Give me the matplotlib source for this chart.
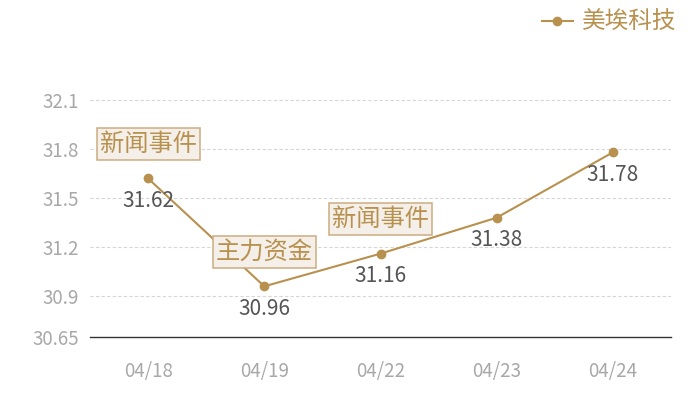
import matplotlib
matplotlib.use("Agg")
import matplotlib.pyplot as plt
from matplotlib.lines import Line2D

plt.rcParams["font.family"] = ["Noto Sans CJK SC", "DejaVu Sans"]

dates = ["04/18", "04/19", "04/22", "04/23", "04/24"]
prices = [31.62, 30.96, 31.16, 31.38, 31.78]
series_name = "美埃科技"
y_ticks = [30.65, 30.9, 31.2, 31.5, 31.8, 32.1]
y_tick_labels = ["30.65", "30.9", "31.2", "31.5", "31.8", "32.1"]
events = [(0, "新闻事件"), (1, "主力资金"), (2, "新闻事件")]

gold = "#b8914f"
grid_gray = "#d6d6d6"
tick_gray = "#a8a8a8"

fig = plt.figure(figsize=(7, 4), dpi=100)
ax = fig.add_axes([90 / 700, 63 / 400, 581 / 700, 237 / 400])

x = list(range(len(dates)))
ax.plot(x, prices, "-o", color=gold, lw=1.5, ms=6, zorder=3)

for xi, yi in zip(x, prices):
    ax.annotate("%.2f" % yi, (xi, yi), xytext=(0, -16), textcoords="offset points",
                ha="center", va="center", fontsize=15, color="#555555", zorder=4)

for idx, label in events:
    ax.annotate(label, (idx, prices[idx]), xytext=(0, 25), textcoords="offset points",
                ha="center", va="center", fontsize=17.5, color=gold, zorder=5,
                bbox=dict(boxstyle="square,pad=0.12", fc="#f4efe8", ec="#cdac80", lw=1.1))

ax.set_xlim(-0.5, len(dates) - 0.5)
ax.set_ylim(30.65, 32.1)
ax.set_xticks(x)
ax.set_xticklabels(dates)
ax.set_yticks(y_ticks)
ax.set_yticklabels(y_tick_labels)
ax.tick_params(axis="both", length=0, colors=tick_gray, labelsize=13.5)
ax.tick_params(axis="x", pad=17)
ax.tick_params(axis="y", pad=8)

for yv in y_ticks[1:]:
    ax.axhline(yv, color=grid_gray, lw=0.8, ls=(0, (3, 2)), zorder=1)

for side in ["top", "right", "left"]:
    ax.spines[side].set_visible(False)
ax.spines["bottom"].set_color("#333333")
ax.spines["bottom"].set_linewidth(1)

handle = Line2D([], [], color=gold, marker="o", ms=6, lw=1.5)
fig.legend([handle], [series_name], loc="upper right", bbox_to_anchor=(0.997, 1.025),
           frameon=False, fontsize=17, labelcolor=gold, handlelength=1.3,
           handletextpad=0.4)

fig.savefig("out.png", dpi=100)
